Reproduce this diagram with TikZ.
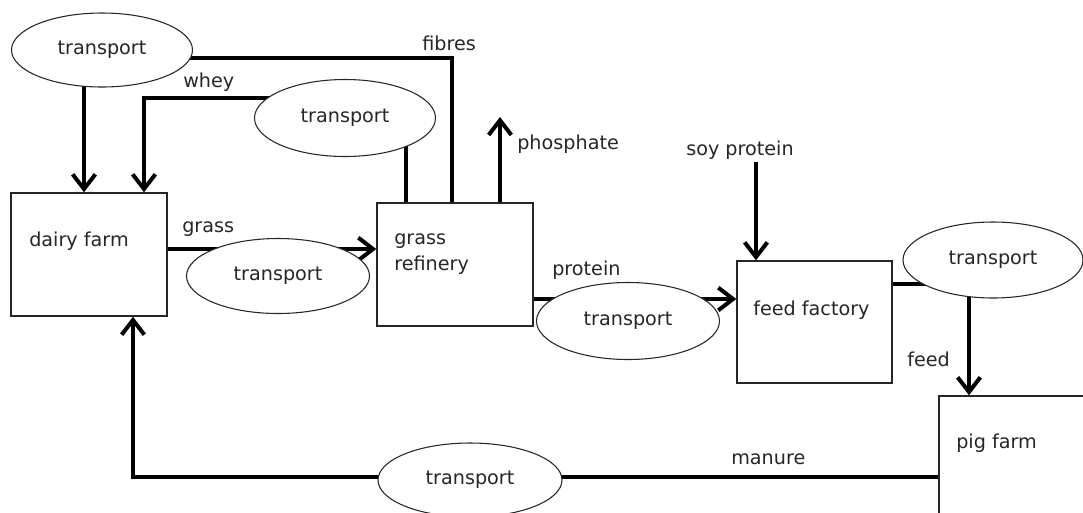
\documentclass[tikz,border=0pt]{standalone}
\usepackage{fontspec}
\setmainfont{DejaVu Sans}
\usetikzlibrary{arrows.meta,shapes.geometric,backgrounds}
\begin{document}
\begin{tikzpicture}[x=0.75pt,y=-0.75pt,
  every node/.style={font=\fontsize{14.4}{17}\selectfont, text=black!85},
  box/.style={draw=black!85, line width=1.1pt, rectangle, inner sep=0pt, fill=white},
  tr/.style={draw=black!85, line width=0.8pt, ellipse, inner sep=0pt, fill=white},
  lbl/.style={anchor=base west, inner sep=0pt},
  ln/.style={line width=3pt, draw=black},
  arr/.style={ln, -{Straight Barb[length=11pt,width=17pt]}}
]
\useasboundingbox (0,0) rectangle (1083,512);
\clip (0,0) rectangle (1083,512);

% boxes
\node[box, minimum width=117pt, minimum height=92.25pt] (dairy) at (89,254.5) {};
\node[box, minimum width=117pt, minimum height=92.25pt] (refinery) at (455,264.5) {};
\node[box, minimum width=116.25pt, minimum height=91.5pt] (feed) at (814.5,322) {};
\node[box, minimum width=130pt, minimum height=110pt] (pig) at (1025.7,469.3) {};

% ellipses
\node[tr, minimum width=135.75pt, minimum height=55.5pt] (t1) at (102,50) {transport};
\node[tr, minimum width=135.75pt, minimum height=57.75pt] (t2) at (345,118) {transport};
\node[tr, minimum width=137.25pt, minimum height=56.25pt] (t3) at (278,276) {transport};
\node[tr, minimum width=137.25pt, minimum height=57.75pt] (t4) at (628,321) {transport};
\node[tr, minimum width=135pt, minimum height=57pt] (t5) at (993,260) {transport};
\node[tr, minimum width=138pt, minimum height=55.5pt] (t6) at (470,480) {transport};

% labels inside boxes
\node[lbl] (ldairy) at (29,246) {dairy farm};
\node[lbl] (lgr1) at (394,244) {grass};
\node[lbl] (lgr2) at (394,270) {refinery};
\node[lbl] (lfeed) at (753,315) {feed factory};
\node[lbl] (lpig) at (956,448) {pig farm};

% connector labels
\node[lbl] (lfibres) at (422,50) {fibres};
\node[lbl] (lwhey) at (183,87) {whey};
\node[lbl] (lphos) at (517,149) {phosphate};
\node[lbl] (lsoy) at (686,155) {soy protein};
\node[lbl] (lgrass) at (182,232) {grass};
\node[lbl] (lprot) at (552,275) {protein};
\node[lbl] (lfeedl) at (907,366) {feed};
\node[lbl] (lman) at (731,464) {manure};

\coordinate (phos) at (500,117);
\coordinate (soy) at (756,162);

\begin{pgfonlayer}{background}
\draw[arr] (t1.center -| 84,0) -- (dairy.north -| 84,0);
\draw[ln] (t1.center |- 0,58) -| (refinery.north -| 452,0);
\draw[arr] (t2.center |- 0,98) -| (dairy.north -| 144,0);
\draw[ln] (t2.center -| 406,0) -- (refinery.north -| 406,0);
\draw[arr] (refinery.north -| phos) -- (phos);
\draw[arr] (dairy.east |- 0,249) -- (refinery.west |- 0,249);
\draw[arr] (refinery.east |- 0,299) -- (feed.west |- 0,299);
\draw[arr] (soy) -- (feed.north -| soy);
\draw[ln] (feed.east |- 0,284) -- (t5.center |- 0,284);
\draw[arr] (t5.center -| 969,0) -- (pig.north -| 969,0);
\draw[arr] (pig.west |- 0,477) -| (dairy.south -| 133,0);
\end{pgfonlayer}
\end{tikzpicture}
\end{document}
